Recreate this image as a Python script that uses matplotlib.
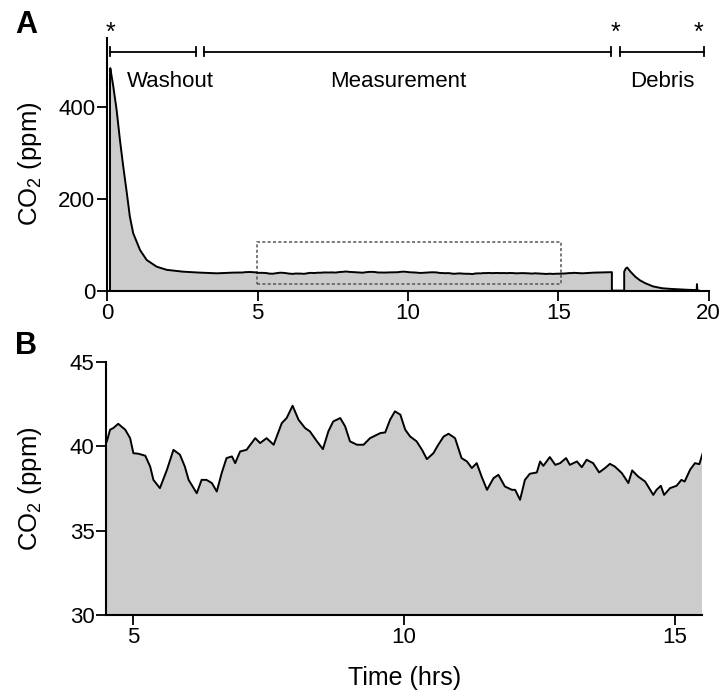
import matplotlib
matplotlib.use("Agg")
import matplotlib.pyplot as plt
from matplotlib.patches import Rectangle
import numpy as np

plt.rcParams['font.family'] = ['Liberation Sans', 'DejaVu Sans']
plt.rcParams['mathtext.fontset'] = 'custom'
plt.rcParams['mathtext.rm'] = 'Liberation Sans'

# ---------------- data ----------------
washout_time = [0.09, 0.09, 0.10, 0.20, 0.31, 0.42, 0.53, 0.65, 0.75, 0.86, 1.09, 1.31,
                1.64, 1.98, 2.53, 3.08, 3.64, 4.19, 4.45]
washout_co2 = [0, 470, 485, 445, 394, 329, 271, 213, 162, 126, 89, 67.5,
               53, 46, 42, 40, 38.5, 40, 40.2]

meas_time = [4.51, 4.57, 4.63, 4.72, 4.85, 4.94, 5.00, 5.09, 5.22, 5.31, 5.37, 5.49,
             5.62, 5.74, 5.86, 5.95, 6.02, 6.17, 6.26, 6.35, 6.45, 6.54, 6.63, 6.72,
             6.82, 6.88, 6.97, 7.09, 7.25, 7.34, 7.46, 7.59, 7.74, 7.83, 7.94, 8.05,
             8.17, 8.26, 8.39, 8.50, 8.60, 8.69, 8.82, 8.91, 9.00, 9.13, 9.25, 9.37,
             9.56, 9.65, 9.74, 9.83, 9.93, 10.02, 10.11, 10.23, 10.33, 10.42, 10.54,
             10.63, 10.73, 10.82, 10.94, 11.06, 11.16, 11.25, 11.34, 11.43, 11.53,
             11.65, 11.74, 11.86, 11.99, 12.05, 12.14, 12.23, 12.32, 12.45, 12.51,
             12.57, 12.69, 12.79, 12.88, 12.99, 13.06, 13.19, 13.28, 13.37, 13.49,
             13.60, 13.71, 13.80, 13.89, 14.02, 14.14, 14.21, 14.32, 14.45, 14.60,
             14.66, 14.74, 14.80, 14.91, 15.03, 15.12, 15.18, 15.28, 15.37, 15.45, 15.51]
meas_co2 = [40.30, 40.99, 41.09, 41.34, 40.99, 40.49, 39.60, 39.57, 39.45, 38.81, 38.02, 37.53,
            38.62, 39.80, 39.51, 38.81, 38.02, 37.23, 38.02, 38.02, 37.83, 37.33, 38.42, 39.31,
            39.41, 39.01, 39.70, 39.80, 40.49, 40.20, 40.49, 40.10, 41.38, 41.68, 42.41, 41.58,
            41.09, 40.89, 40.30, 39.84, 40.89, 41.48, 41.68, 41.19, 40.30, 40.10, 40.10, 40.49,
            40.79, 40.83, 41.58, 42.08, 41.88, 40.99, 40.59, 40.30, 39.80, 39.25, 39.60,
            40.10, 40.59, 40.75, 40.49, 39.31, 39.11, 38.72, 39.01, 38.22, 37.43,
            38.12, 38.32, 37.63, 37.43, 37.43, 36.84, 38.02, 38.38, 38.46, 39.11,
            38.85, 39.37, 38.91, 39.01, 39.31, 38.91, 39.11, 38.77, 39.21, 39.01,
            38.46, 38.72, 38.97, 38.81, 38.42, 37.83, 38.58, 38.22, 37.92, 37.13,
            37.43, 37.67, 37.13, 37.53, 37.67, 38.02, 37.92, 38.62, 39.01, 38.95, 39.57]

tail_time = [15.8, 16.2, 16.5, 16.78, 16.78, 17.19, 17.19]
tail_co2 = [38.5, 40, 40.5, 41, 0.8, 0.8, 42]

debris_time = [17.24, 17.29, 17.40, 17.56, 17.72, 17.89, 18.15, 18.45, 18.75, 19.0,
               19.3, 19.55, 19.60, 19.61, 19.62, 19.72]
debris_co2 = [49, 51, 42, 31, 23, 17, 10, 6, 4.5, 3.6, 2.6, 2, 2, 15, 2, 0]

periods = ["Washout", "Measurement", "Debris"]
period_start = [0.09, 3.2, 17.06]
period_end = [2.95, 16.76, 19.83]
period_label_x = [2.09, 9.66, 18.45]
star_x = [0.09, 16.9, 19.67]

zoom_x = [4.99, 15.09]
zoom_y = [15.2, 107.4]

a_xticks = [0, 5, 10, 15, 20]
a_yticks = [0, 200, 400]
b_xticks = [5, 10, 15]
b_yticks = [30, 35, 40, 45]

# ---------------- figure ----------------
W, H = 724, 696
fig = plt.figure(figsize=(W / 100, H / 100), dpi=100)

def frac(l, r, t, b):
    return [l / W, 1 - b / H, (r - l) / W, (b - t) / H]

axA = fig.add_axes(frac(107.3, 708.7, 38.3, 291))
axB = fig.add_axes(frac(106.3, 702.0, 362.0, 615.3))

fill_c = '#cccccc'

# Panel A
tA = np.concatenate([washout_time, meas_time, tail_time, debris_time])
cA = np.concatenate([washout_co2, meas_co2, tail_co2, debris_co2])
axA.fill_between(tA, 0, cA, color=fill_c, linewidth=0)
axA.plot(tA, cA, color='black', lw=1.4, solid_joinstyle='round')
axA.set_xlim(0, 20)
axA.set_ylim(0, 550)
axA.set_xticks(a_xticks)
axA.set_yticks(a_yticks)

axA.add_patch(Rectangle((zoom_x[0], zoom_y[0]), zoom_x[1] - zoom_x[0], zoom_y[1] - zoom_y[0],
                        fill=False, edgecolor='#555555', lw=1.1, linestyle=(0, (2, 1.5))))

br_y = 521
for s, e, name, lx in zip(period_start, period_end, periods, period_label_x):
    axA.plot([s, e], [br_y, br_y], color='black', lw=1.3, clip_on=False)
    axA.plot([s, s], [br_y - 10, br_y + 10], color='black', lw=1.3, clip_on=False)
    axA.plot([e, e], [br_y - 10, br_y + 10], color='black', lw=1.3, clip_on=False)
    axA.text(lx, 456, name, ha='center', va='center', fontsize=16)
for sx in star_x:
    axA.text(sx, 562, '*', ha='center', va='center', fontsize=18, clip_on=False)

ylab = r'CO$_\mathregular{2}$ (ppm)'
axA.set_ylabel(ylab, fontsize=18.5)
axA.yaxis.set_label_coords(-0.105, 0.505)

# Panel B
axB.fill_between(meas_time, 0, meas_co2, color=fill_c, linewidth=0)
axB.plot(meas_time, meas_co2, color='black', lw=1.4, solid_joinstyle='round')
axB.set_xlim(4.5, 15.5)
axB.set_ylim(30, 45)
axB.set_xticks(b_xticks)
axB.set_yticks(b_yticks)
axB.set_ylabel(ylab, fontsize=18.5)
axB.yaxis.set_label_coords(-0.105, 0.5)
axB.set_xlabel('Time (hrs)', fontsize=18)
axB.xaxis.set_label_coords(0.5, -0.2)

for ax in (axA, axB):
    for sp in ('top', 'right'):
        ax.spines[sp].set_visible(False)
    for sp in ('left', 'bottom'):
        ax.spines[sp].set_linewidth(1.5)
    ax.tick_params(direction='out', length=7, width=1.3, labelsize=16, pad=1.5)

fig.text(15 / W, 1 - 25 / H, 'A', fontsize=22, fontweight='bold', ha='left', va='center')
fig.text(15 / W, 1 - 346 / H, 'B', fontsize=22, fontweight='bold', ha='left', va='center')

fig.savefig('out.png', dpi=100)
